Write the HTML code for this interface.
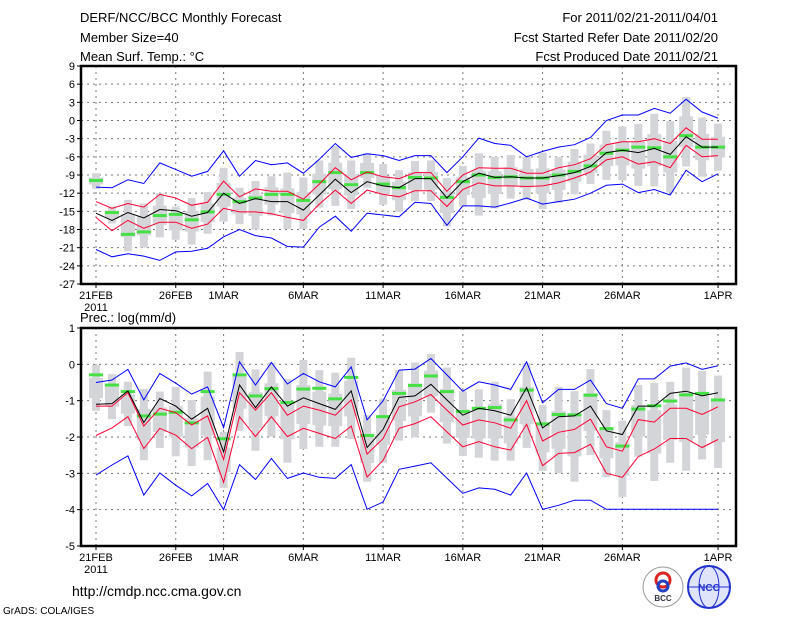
<!DOCTYPE html>
<html><head><meta charset="utf-8"><style>
body{margin:0;background:#fff;}
svg{display:block;font-family:"Liberation Sans",sans-serif;}
</style></head><body>
<svg id="chart" width="800" height="618" viewBox="0 0 800 618">
<g font-size="13" fill="#000">
<text x="80" y="22">DERF/NCC/BCC Monthly Forecast</text>
<text x="80" y="42">Member Size=40</text>
<text x="80" y="61">Mean Surf. Temp.: °C</text>
<text x="718" y="22" text-anchor="end">For 2011/02/21-2011/04/01</text>
<text x="718" y="42" text-anchor="end">Fcst Started Refer Date 2011/02/20</text>
<text x="718" y="61" text-anchor="end">Fcst Produced Date 2011/02/21</text>
<text x="80" y="322">Prec.: log(mm/d)</text>
<text x="72" y="596" font-size="14">http://cmdp.ncc.cma.gov.cn</text>
<text x="3" y="614" font-size="10">GrADS: COLA/IGES</text>
</g>
<g>
<circle cx="663" cy="587" r="20" fill="#fff" stroke="#999"/>
<circle cx="663" cy="580" r="7" fill="none" stroke="#d22" stroke-width="3"/>
<circle cx="663" cy="586" r="5" fill="none" stroke="#2240c0" stroke-width="3"/>
<text x="663" y="601" font-size="8" font-weight="bold" text-anchor="middle" fill="#334">BCC</text>
<circle cx="709" cy="587" r="21" fill="#dfe4fb" stroke="#2230d0" stroke-width="2"/>
<ellipse cx="709" cy="587" rx="10" ry="21" fill="none" stroke="#2230d0"/>
<line x1="688" y1="587" x2="730" y2="587" stroke="#2230d0"/>
<text x="709" y="591" font-size="10" font-weight="bold" text-anchor="middle" fill="#2230d0">NCC</text>
</g>
</svg>
<script>
const days = ['21FEB','26FEB','1MAR','6MAR','11MAR','16MAR','21MAR','26MAR','1APR'];
const dayIdx = [0,5,8,13,18,23,28,33,39];
const tTicks = [9,6,3,0,-3,-6,-9,-12,-15,-18,-21,-24,-27];
const pTicks = [1,0,-1,-2,-3,-4,-5];
// temperature series
const tBlueHi = [-11,-11.1,-9.8,-10.4,-7,-8.1,-9.2,-8.4,-5,-9.2,-6.6,-7.3,-7,-8.7,-6.4,-3.8,-6.1,-5.5,-5.8,-6.6,-5.8,-5.8,-8.6,-6,-2.9,-3.8,-4.1,-6,-5.1,-4.4,-4,-2.8,0,0.9,0.9,2,1.2,3.5,1.4,0.4];
const tBlueLo = [-21.3,-22.5,-22,-22.4,-23.1,-21.7,-21.6,-21.1,-19.2,-18,-19,-19.4,-20.8,-20.9,-17.6,-15.8,-18.3,-15.3,-15.6,-15.9,-13.5,-13.7,-17.3,-14.1,-14.1,-14.3,-13.6,-12.8,-13.8,-13.4,-13,-12,-10.7,-10.5,-11.9,-11.4,-12.3,-8.2,-10.1,-8.8];
const tRedHi = [-13.4,-14.5,-13.7,-14.3,-12.2,-12.8,-14,-13.5,-10,-12.6,-11.3,-11.7,-11.7,-13,-10.5,-7.8,-9.8,-8.5,-9.3,-9.6,-8.6,-8.6,-11.7,-9,-7.8,-7.9,-7.9,-8.7,-8.7,-7.8,-7.3,-6.3,-4,-3.5,-3.5,-3,-3.8,-1.2,-3.1,-3.1];
const tRedLo = [-16,-18.2,-16.5,-17.8,-16.8,-16.8,-17.8,-17.1,-14.5,-15.1,-15.1,-15.4,-16,-16.5,-13.8,-11.5,-13.7,-11.5,-12.2,-12.6,-11.6,-11.6,-14.2,-11.4,-10.3,-10.8,-10.8,-10.9,-10.8,-10.3,-9.5,-8.5,-6.5,-6,-7.2,-6.8,-7.8,-4.1,-6,-5.8];
const tMean = [-15.3,-16.5,-15.2,-16.1,-14.7,-14.9,-15.8,-15.2,-12,-13.7,-12.9,-13.4,-13.4,-14.8,-12.3,-9.7,-11.9,-10.1,-10.8,-11.1,-9.6,-9.6,-12.8,-10.1,-8.7,-9.4,-9.3,-9.5,-9.5,-9.1,-8.6,-7.6,-5.3,-4.9,-5.3,-4.6,-5.6,-2.7,-4.4,-4.4];
const tObs = [-9.9,-15.2,-18.8,-18.4,-15.7,-15.5,-16.4,-15.1,-12.2,-13.4,-12.8,-12.2,-12.2,-13.2,-10.1,-8.6,-10.6,-8.6,-10.5,-11.1,-9.4,-9.5,-12.7,-10.1,-9,-9.4,-9.3,-9.5,-9.5,-9,-8.4,-7.5,-5.4,-4.9,-4.4,-4.5,-6,-2.5,-4.4,-4.4];
const tBarHi = [-8.7,-14.2,-13.1,-13.7,-12,-14.2,-12.8,-11.8,-7.8,-11.1,-10,-9.2,-8.6,-9.4,-6.6,-4.2,-6.6,-5.4,-7.2,-8.2,-6.7,-6.6,-9.5,-7.5,-5.4,-6,-5.7,-6,-5.3,-6,-4.7,-3.8,-1.7,-1,-0.6,1.1,-0.1,3.9,0.5,-0.5];
const tBarLo = [-11.3,-17,-21.6,-21,-19.3,-19.7,-20.5,-18.7,-16.7,-17.1,-18,-15.7,-17.9,-17.9,-14.4,-14.1,-14.6,-11.1,-13.9,-15.1,-13.3,-13.3,-17.5,-14.2,-15.7,-14.5,-12.9,-13.1,-14.6,-13.6,-12.2,-10.5,-9.8,-9.9,-10.8,-10.9,-11.9,-7.6,-9.3,-8.3];
// precipitation series
const pBlueHi = [-0.5,-0.43,-0.14,-0.98,-0.25,-0.52,-0.82,-0.62,-1.74,0.07,-0.57,0.05,-0.54,-0.25,-0.48,-0.62,-0.07,-1.53,-1,-0.16,-0.13,0.16,-0.29,-0.74,-0.48,-0.57,-0.69,0.07,-1.06,-0.69,-0.69,-0.43,-1.08,-1.21,-0.4,-0.4,-0.05,0.04,-0.14,-0.04];
const pBlueLo = [-3.05,-2.77,-2.52,-3.6,-2.99,-3.33,-3.62,-3.28,-4,-2.76,-3.17,-2.59,-3.14,-2.99,-3.11,-3.14,-2.76,-3.99,-3.79,-2.89,-2.8,-2.71,-3.13,-3.55,-3.4,-3.44,-3.6,-2.99,-3.99,-3.88,-3.74,-3.74,-3.99,-3.99,-3.99,-3.99,-3.99,-3.99,-3.99,-3.99];
const pRedHi = [-1.15,-1.15,-0.78,-1.7,-1.21,-1.33,-1.67,-1.42,-2.62,-0.78,-1.26,-0.78,-1.4,-1.15,-1.26,-1.4,-0.98,-2.47,-2.04,-1.17,-1.03,-0.83,-1.26,-1.67,-1.53,-1.61,-1.76,-1,-2.11,-1.87,-1.79,-1.51,-2.27,-2.39,-1.52,-1.59,-1.21,-1.21,-1.38,-1.17];
const pRedLo = [-1.96,-1.75,-1.44,-2.32,-1.76,-1.95,-2.32,-2.01,-3.25,-1.44,-1.99,-1.44,-1.99,-1.76,-1.9,-2.04,-1.7,-3.1,-2.64,-1.76,-1.63,-1.44,-1.86,-2.27,-2.13,-2.27,-2.36,-1.65,-2.79,-2.45,-2.43,-2.2,-3,-3.11,-2.54,-2.33,-2.04,-2.04,-2.29,-2.07];
const pMean = [-1.1,-1.08,-0.73,-1.6,-0.94,-1.15,-1.51,-1.21,-2.41,-0.57,-1.19,-0.62,-1.15,-0.92,-1.08,-1.24,-0.73,-2.29,-1.79,-0.91,-0.87,-0.55,-0.98,-1.4,-1.21,-1.28,-1.4,-0.64,-1.75,-1.44,-1.42,-1.15,-1.83,-1.93,-1.15,-1.15,-0.8,-0.74,-0.87,-0.78];
const pObs = [-0.29,-0.57,-0.75,-1.42,-1.37,-1.32,-1.61,-0.75,-2.05,-0.29,-0.87,-0.67,-1.05,-0.68,-0.66,-0.95,-0.36,-1.96,-1.44,-0.8,-0.58,-0.32,-0.75,-1.3,-1.21,-1.19,-1.53,-0.71,-1.64,-1.38,-1.39,-0.85,-1.77,-2.25,-1.23,-1.14,-1.01,-0.84,-0.8,-0.98];
const pBarHi = [-0.02,-0.27,-0.48,-0.68,-0.75,-0.62,-0.98,-0.2,-1.86,0.34,-0.14,0.05,-0.4,0.12,-0.16,-0.23,0.18,-1.4,-0.94,-0.16,0.05,0.28,-0.09,-0.74,-0.69,-0.48,-0.96,0.03,-1.12,-0.62,-0.74,-0.13,-1.26,-1.55,-0.57,-0.51,-0.48,-0.09,-0.18,-0.31];
const pBarLo = [-1.28,-1.51,-1.7,-2.64,-2.3,-2.53,-2.8,-2.64,-3.4,-1.83,-2.38,-1.99,-2.71,-2.33,-2.27,-2.27,-2.06,-3.23,-2.71,-2.1,-2.01,-1.33,-2.18,-2.52,-2.57,-2.65,-2.65,-2.3,-2.93,-2.99,-3.23,-2.5,-3.1,-3.65,-2.54,-3.21,-2.71,-2.93,-2.62,-2.85];

const NS='http://www.w3.org/2000/svg';
const svg=document.getElementById('chart');
const X0=81, X1=736;
function xs(d){return 96+d*15.95;}
function mk(tag,attrs,parent){const e=document.createElementNS(NS,tag);for(const k in attrs)e.setAttribute(k,attrs[k]);(parent||svg).appendChild(e);return e;}

function panel(name,top,bot,vmax,vmin,ticks,series){
  const g=mk('g',{});
  
  
  const ys=v=>top+(vmax-v)/(vmax-vmin)*(bot-top);
  // grid
  ticks.forEach(t=>{
    const y=ys(t);
    if(t!==vmax&&t!==vmin){const l=mk('line',{x1:X0,x2:X1,y1:y,y2:y,stroke:'#777','stroke-dasharray':'2,4'},g);
      
      }
    mk('line',{x1:X0-4,x2:X0,y1:y,y2:y,stroke:'#000'},g);
    const tx=mk('text',{x:X0-6,y:y+4,'font-size':'11','text-anchor':'end'},g);
    tx.textContent=t;
    
    
  });
  dayIdx.forEach((d,i)=>{
    const x=xs(d);
    const l=mk('line',{x1:x,x2:x,y1:top,y2:bot,stroke:'#777','stroke-dasharray':'2,4'},g);
    
    
    mk('line',{x1:x,x2:x,y1:bot,y2:bot+4,stroke:'#000'},g);
    const tx=mk('text',{x:x,y:bot+15,'font-size':'11','text-anchor':'middle'},g);
    tx.textContent=days[i];
    
    
  });
  const yr=mk('text',{x:96,y:bot+27,'font-size':'11','text-anchor':'middle'},g);
  yr.textContent='2011';
  
  
  // bars
  series.hi.forEach((h,d)=>{
    const lo=series.lo[d], x=xs(d);
    const b=mk('rect',{x:x-4,y:ys(h),width:8,height:ys(lo)-ys(h),fill:'#d4d5d9'},g);
    
    
    const c=(h+lo)/2, r=(h-lo)*0.22;
    const bx=mk('rect',{x:x-7,y:ys(c+r),width:14,height:ys(c-r)-ys(c+r),fill:'#d4d5d9'},g);
    
    
  });
  // obs green
  series.obs.forEach((v,d)=>{
    const r=mk('rect',{x:xs(d)-7,y:ys(v)-1.5,width:14,height:3,fill:'#44e044'},g);
    
    
  });
  const lines=[[series.bhi,'#0000ff','blue-upper-line'],[series.blo,'#0000ff','blue-lower-line'],[series.rhi,'#ff0033','red-upper-line'],[series.rlo,'#ff0033','red-lower-line'],[series.mean,'#000','ensemble-mean-line']];
  lines.forEach(([arr,col,nm])=>{
    const p=mk('polyline',{points:arr.map((v,d)=>xs(d).toFixed(1)+','+ys(v).toFixed(1)).join(' '),fill:'none',stroke:col,'stroke-width':1},g);
    
    
  });
  const f=mk('rect',{x:X0,y:top,width:X1-X0,height:bot-top,fill:'none',stroke:'#000','stroke-width':2.5},g);
  
  
}
panel('temperature-panel',66,284,9,-27,tTicks,{hi:tBarHi,lo:tBarLo,obs:tObs,bhi:tBlueHi,blo:tBlueLo,rhi:tRedHi,rlo:tRedLo,mean:tMean});
panel('precipitation-panel',328,546,1,-5,pTicks,{hi:pBarHi,lo:pBarLo,obs:pObs,bhi:pBlueHi,blo:pBlueLo,rhi:pRedHi,rlo:pRedLo,mean:pMean});
</script>
</body></html>
